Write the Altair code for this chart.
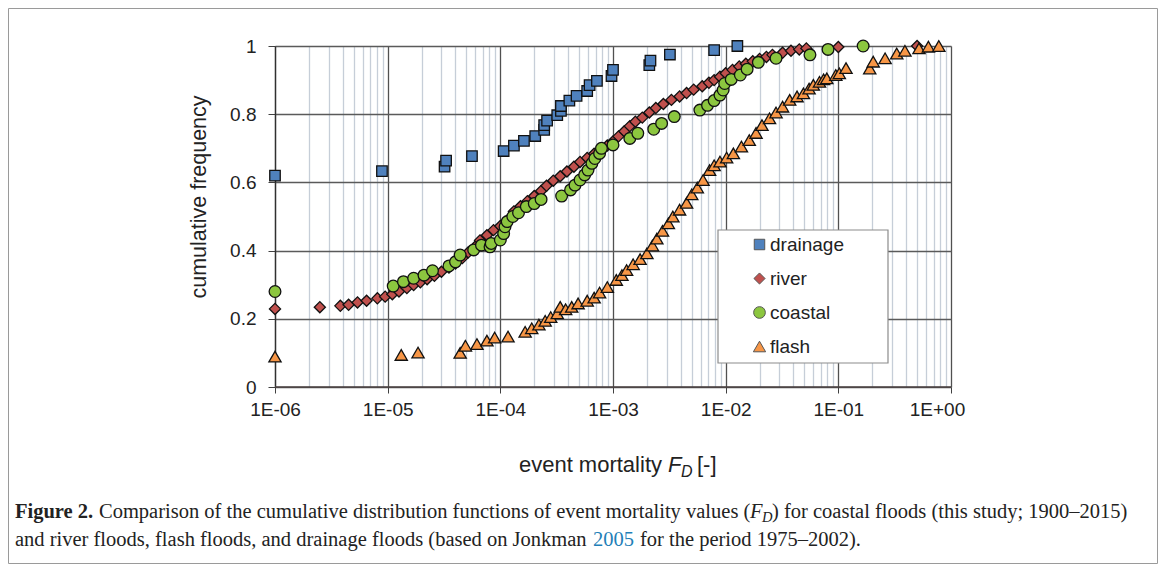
import altair as alt
import pandas as pd

# ---------------- data ----------------
series_names = ["drainage", "river", "coastal", "flash"]

drain_x = [1e-6, 8.9e-6, 3.2e-5, 3.3e-5, 5.6e-5, 1.07e-4, 1.32e-4, 1.62e-4, 2.04e-4, 2.45e-4,
           2.45e-4, 2.6e-4, 3.2e-4, 3.45e-4, 3.45e-4, 4.1e-4, 4.75e-4, 5.9e-4, 6.2e-4, 7.2e-4,
           9.7e-4, 1.0e-3, 2.1e-3, 2.15e-3, 3.2e-3, 7.9e-3, 1.27e-2]
drain_y = [0.62, 0.633, 0.646, 0.664, 0.677, 0.692, 0.708, 0.722, 0.736, 0.754,
           0.768, 0.781, 0.797, 0.81, 0.824, 0.84, 0.854, 0.868, 0.885, 0.898,
           0.912, 0.93, 0.944, 0.957, 0.975, 0.988, 1.0]

river_x = [1e-6, 2.5e-6, 3.8e-6, 4.5e-6, 5.4e-6, 6.5e-6, 8.1e-6, 9.5e-6, 1.1e-5, 1.26e-5,
           1.48e-5, 1.7e-5, 1.95e-5, 2.24e-5, 2.6e-5, 3.0e-5, 3.5e-5, 4.0e-5, 4.6e-5, 5.2e-5,
           6.0e-5, 6.6e-5, 7.6e-5, 8.7e-5, 1.0e-4, 1.15e-4, 1.32e-4, 1.51e-4, 1.74e-4, 2.0e-4,
           2.3e-4, 2.57e-4, 2.95e-4, 3.4e-4, 3.9e-4, 4.5e-4, 5.1e-4, 5.9e-4, 6.8e-4, 7.8e-4,
           8.9e-4, 1.0e-3, 1.12e-3, 1.26e-3, 1.41e-3, 1.58e-3, 1.82e-3, 2.1e-3, 2.4e-3, 2.8e-3,
           3.3e-3, 3.9e-3, 4.5e-3, 5.2e-3, 6.2e-3, 7.1e-3, 7.9e-3, 8.9e-3, 1.0e-2, 1.15e-2,
           1.32e-2, 1.51e-2, 1.74e-2, 2.0e-2, 2.3e-2, 2.6e-2, 3.2e-2, 3.8e-2, 4.5e-2, 5.2e-2,
           0.1, 0.5]
river_y = [0.229, 0.234, 0.238, 0.241, 0.248, 0.253, 0.260, 0.265, 0.272, 0.280,
           0.290, 0.299, 0.307, 0.316, 0.326, 0.338, 0.350, 0.362, 0.378, 0.395,
           0.412, 0.430, 0.445, 0.460, 0.472, 0.488, 0.515, 0.530, 0.545, 0.560,
           0.575, 0.590, 0.605, 0.618, 0.632, 0.646, 0.660, 0.672, 0.684, 0.696,
           0.708, 0.720, 0.735, 0.750, 0.765, 0.778, 0.790, 0.805, 0.818, 0.830,
           0.842, 0.852, 0.862, 0.872, 0.882, 0.892, 0.900, 0.910, 0.920, 0.930,
           0.940, 0.948, 0.955, 0.962, 0.968, 0.974, 0.980, 0.986, 0.990, 0.993,
           0.997, 1.0]

coastal_x = [1e-6, 1.12e-5, 1.38e-5, 1.7e-5, 2.1e-5, 2.5e-5, 3.5e-5, 4.0e-5, 4.4e-5, 5.8e-5,
             6.8e-5, 8.1e-5, 8.3e-5, 1.0e-4, 1.07e-4, 1.1e-4, 1.15e-4, 1.29e-4, 1.45e-4, 1.7e-4,
             2.0e-4, 2.3e-4, 3.5e-4, 4.2e-4, 4.6e-4, 5.1e-4, 5.6e-4, 6.0e-4, 6.5e-4, 6.9e-4,
             7.6e-4, 7.9e-4, 1.0e-3, 1.41e-3, 1.66e-3, 2.3e-3, 2.7e-3, 3.5e-3, 5.9e-3, 6.9e-3,
             7.9e-3, 8.9e-3, 9.5e-3, 9.8e-3, 1.12e-2, 1.35e-2, 1.55e-2, 1.95e-2, 2.8e-2, 5.6e-2,
             8.1e-2, 0.166]
coastal_y = [0.28, 0.296, 0.309, 0.319, 0.328, 0.341, 0.355, 0.367, 0.387, 0.402,
             0.416, 0.411, 0.421, 0.431, 0.45, 0.47, 0.485, 0.50, 0.511, 0.529,
             0.538, 0.55, 0.56, 0.578, 0.592, 0.607, 0.622, 0.636, 0.656, 0.67,
             0.685, 0.70, 0.71, 0.729, 0.744, 0.756, 0.773, 0.793, 0.812, 0.826,
             0.84, 0.856, 0.871, 0.89, 0.902, 0.915, 0.932, 0.952, 0.964, 0.974,
             0.99, 1.0]

flash_x = [1e-6, 1.32e-5, 1.86e-5, 4.4e-5, 4.9e-5, 6.2e-5, 7.6e-5, 8.9e-5, 1.17e-4, 1.66e-4,
           1.9e-4, 2.2e-4, 2.5e-4, 2.8e-4, 3.2e-4, 3.4e-4, 3.8e-4, 4.3e-4, 4.9e-4, 5.9e-4,
           6.8e-4, 7.6e-4, 8.9e-4, 1.07e-3, 1.2e-3, 1.32e-3, 1.51e-3, 1.74e-3, 2.0e-3, 2.24e-3,
           2.45e-3, 2.75e-3, 3.1e-3, 3.4e-3, 3.9e-3, 4.5e-3, 5.0e-3, 5.6e-3, 6.3e-3, 7.2e-3,
           7.9e-3, 8.9e-3, 1.02e-2, 1.17e-2, 1.38e-2, 1.62e-2, 1.86e-2, 2.1e-2, 2.45e-2, 2.8e-2,
           3.2e-2, 3.7e-2, 4.3e-2, 4.9e-2, 5.5e-2, 6.0e-2, 6.8e-2, 7.4e-2, 7.9e-2, 9.5e-2,
           0.102, 0.117, 0.19, 0.204, 0.26, 0.33, 0.39, 0.52, 0.63, 0.78]
flash_y = [0.089, 0.094, 0.101, 0.100, 0.121, 0.126, 0.136, 0.145, 0.148, 0.162,
           0.172, 0.183, 0.194, 0.205, 0.216, 0.235, 0.228, 0.235, 0.245, 0.253,
           0.262, 0.277, 0.293, 0.314, 0.328, 0.343, 0.360, 0.375, 0.392, 0.415,
           0.435, 0.458, 0.48, 0.50, 0.52, 0.54, 0.565, 0.585, 0.607, 0.636,
           0.65, 0.661, 0.673, 0.685, 0.705, 0.724, 0.745, 0.768, 0.788, 0.805,
           0.822, 0.842, 0.852, 0.861, 0.875, 0.886, 0.895, 0.902, 0.905, 0.915,
           0.92, 0.935, 0.934, 0.954, 0.964, 0.978, 0.986, 0.993, 0.998, 1.0]

x_ticks = [m * 10.0 ** k for k in range(-6, 0) for m in range(1, 10)] + [1.0]
y_ticks = [0, 0.2, 0.4, 0.6, 0.8, 1]

colors = ["#4f81bd", "#c0504d", "#8cc63f", "#f79646"]
shapes = ["square", "diamond", "circle", "triangle-up"]
sizes = [110, 150, 165, 160]

rows = []
for name, xs, ys in [("drainage", drain_x, drain_y), ("river", river_x, river_y),
                     ("coastal", coastal_x, coastal_y), ("flash", flash_x, flash_y)]:
    for a, b in zip(xs, ys):
        rows.append({"series": name, "x": a, "y": b})
df = pd.DataFrame(rows)

W, H = 676, 341
PL, PT = 267, 38
SVG_W, SVG_H = 1150, 556

major = "abs(log(datum.value)/LN10 - round(log(datum.value)/LN10)) < 0.01"

x_axis = alt.Axis(
    values=x_ticks, title=None, grid=True, domain=False,
    gridColor={"condition": {"test": major, "value": "#505050"}, "value": "#c6ced8"},
    gridWidth=1.3,
    tickColor="#404040",
    tickOpacity={"condition": {"test": major, "value": 1}, "value": 0},
    tickSize=6,
    labelExpr="abs(log(datum.value)/LN10 - round(log(datum.value)/LN10)) < 0.01 ? (datum.value >= 1 ? '1E+00' : '1E-0' + round(-log(datum.value)/LN10)) : ''",
    labelOffset={"condition": {"test": "datum.value >= 1", "value": -14}, "value": 0},
    labelFont="Liberation Sans", labelFontSize=19, labelColor="#222222",
    labelPadding=7, labelFlush=False, labelOverlap=False,
)
y_axis = alt.Axis(
    values=y_ticks, title=None, grid=True, gridColor="#5a5a5a", gridWidth=1.3,
    domain=True, domainColor="#303030", domainWidth=1.3,
    tickColor="#404040", tickSize=7, format="~g",
    labelFont="Liberation Sans", labelFontSize=19, labelColor="#222222", labelPadding=12,
)

points = alt.Chart(df).mark_point(filled=True, stroke="#111111", strokeWidth=1.3, opacity=1).encode(
    x=alt.X("x:Q", scale=alt.Scale(type="log", domain=[1e-6, 1]), axis=x_axis),
    y=alt.Y("y:Q", scale=alt.Scale(domain=[0, 1]), axis=y_axis),
    color=alt.Color("series:N", scale=alt.Scale(domain=series_names, range=colors),
                    legend=alt.Legend(title=None, orient="none", legendX=475, legendY=189,
                                      padding=0, labelFont="Liberation Sans", labelFontSize=19,
                                      labelColor="#222222", rowPadding=14, symbolSize=90,
                                      symbolStrokeColor="#555555", symbolStrokeWidth=1,
                                      labelOffset=1)),
    shape=alt.Shape("series:N", scale=alt.Scale(domain=series_names, range=shapes)),
    size=alt.Size("series:N", scale=alt.Scale(domain=series_names, range=sizes), legend=None),
    order=alt.Order("order:Q"),
).transform_calculate(
    order="indexof(['drainage','river','coastal','flash'], datum.series)"
)

one = pd.DataFrame({"k": [0]})

bottom_line = alt.Chart(one).mark_rule(color="#4a4040", strokeWidth=1.3).encode(
    x=alt.value(0), x2=alt.value(W), y=alt.value(H))

legend_box = alt.Chart(one).mark_rect(fill="white", stroke="#8c8c8c", strokeWidth=1.2).encode(
    x=alt.value(443), x2=alt.value(613), y=alt.value(184), y2=alt.value(317))

frame = alt.Chart(one).mark_rect(fill=None, stroke="#9a9a9a", strokeWidth=1).encode(
    x=alt.value(-PL + 0.5), x2=alt.value(SVG_W - PL - 0.5),
    y=alt.value(-PT + 0.5), y2=alt.value(SVG_H - PT - 0.5))


def txt(s, x, y, size=19, font="Liberation Sans", align="left", style=None, weight=None,
        color="#222222", angle=None, baseline="middle"):
    kw = dict(font=font, fontSize=size, align=align, baseline=baseline, color=color)
    if style:
        kw["fontStyle"] = style
    if weight:
        kw["fontWeight"] = weight
    if angle is not None:
        kw["angle"] = angle
    return alt.Chart(pd.DataFrame({"t": [s]})).mark_text(**kw).encode(
        x=alt.value(x), y=alt.value(y), text="t:N")


CF = "Liberation Serif"
CS = 20.5
texts = [
    txt("cumulative frequency", -75, 151, size=21.5, angle=270, align="center"),
    txt("event mortality", 662 - 275, 419, size=22, align="right"),
    txt("F", 668 - 275, 419, size=22, style="italic"),
    txt("D", 681 - 275, 426, size=16, style="italic"),
    txt("[-]", 697 - 275, 419, size=22),
    # caption
    txt("Figure 2.", 15 - 275, 466, size=CS, font=CF, weight="bold"),
    txt("Comparison of the cumulative distribution functions of event mortality values (",
        99 - 275, 466, size=CS, font=CF),
    txt("F", 750 - 275, 466, size=CS, font=CF, style="italic"),
    txt("D", 762 - 275, 472, size=14.5, font=CF, style="italic"),
    txt(") for coastal floods (this study; 1900\u20132015)", 772 - 275, 466, size=CS, font=CF),
    txt("and river floods, flash floods, and drainage floods (based on Jonkman", 15 - 275, 494,
        size=CS, font=CF),
    txt("2005", 593 - 275, 494, size=CS, font=CF, color="#1f7fb8"),
    txt("for the period 1975\u20132002).", 640 - 275, 494, size=CS, font=CF),
]

chart = alt.layer(bottom_line, legend_box, points, frame, *texts).properties(
    width=W, height=H,
    autosize=alt.AutoSizeParams(type="none"),
    padding={"left": PL, "top": PT, "right": SVG_W - PL - W, "bottom": SVG_H - PT - H},
).configure_view(fill="#f9fafd", stroke="#9a9a9a", strokeWidth=1.2).configure(background="white")

chart.save("out.html", embed_options={"renderer": "svg", "actions": False})
